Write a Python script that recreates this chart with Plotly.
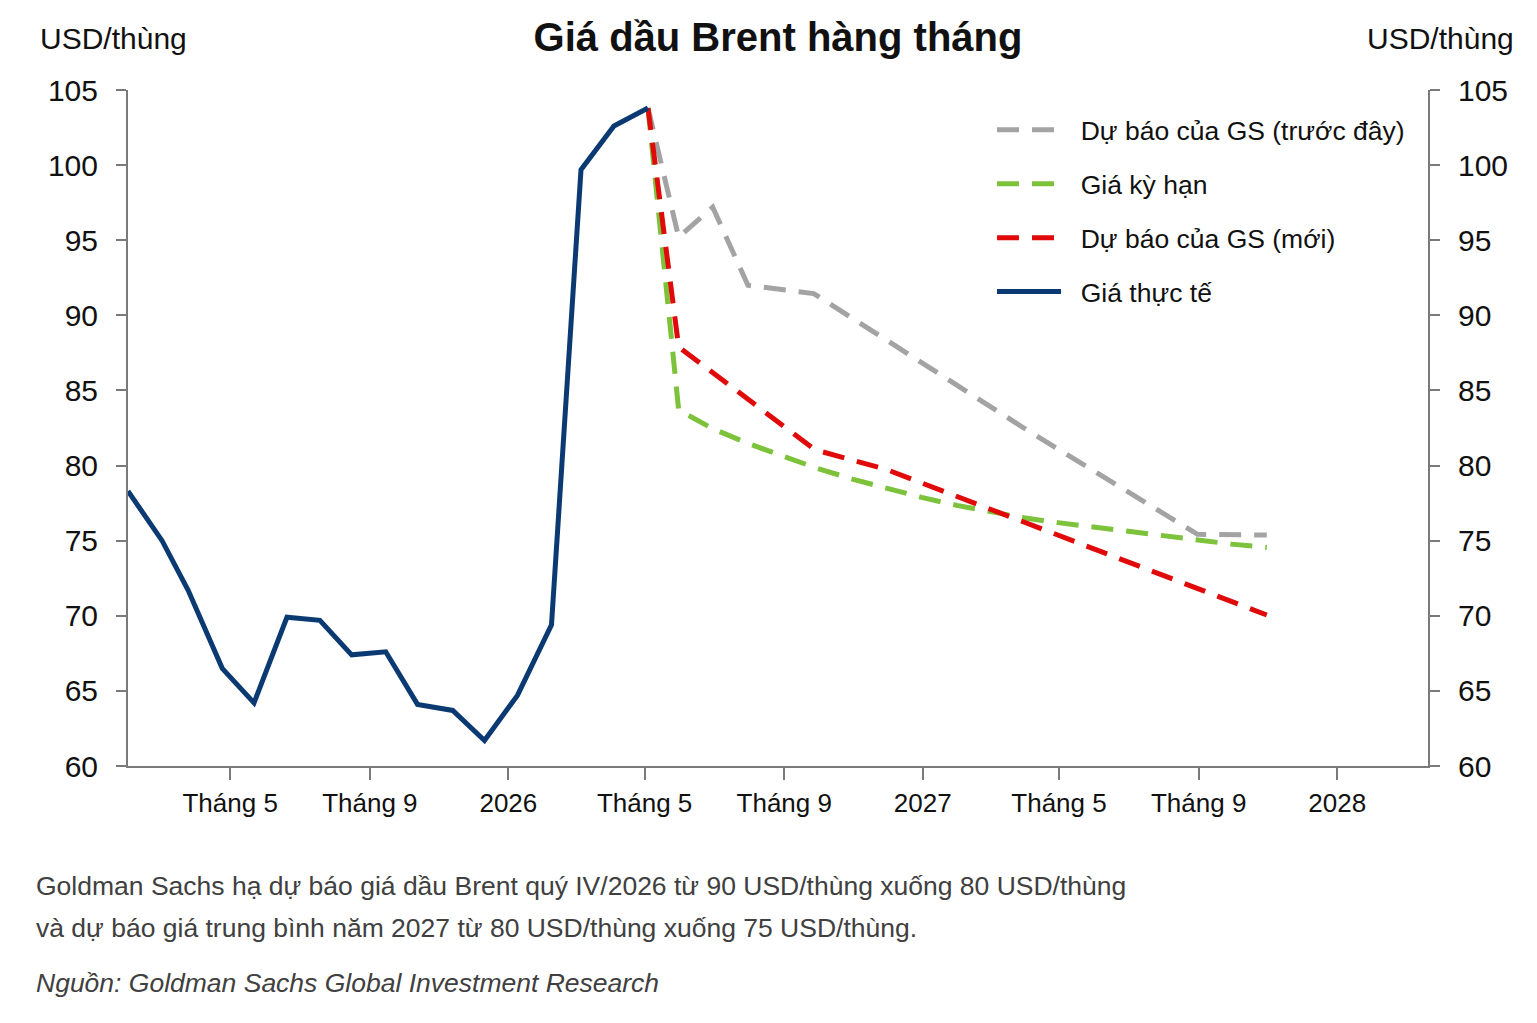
import plotly.graph_objects as go

# ---- data ----
actual_dates = ["2025-01-31", "2025-03-02", "2025-03-25", "2025-04-24", "2025-05-22",
                "2025-06-20", "2025-07-19", "2025-08-16", "2025-09-15", "2025-10-13",
                "2025-11-13", "2025-12-11", "2026-01-09", "2026-02-08", "2026-03-06",
                "2026-04-04", "2026-05-04"]
actual_values = [78.3, 75.0, 71.7, 66.5, 64.2, 69.9, 69.7, 67.4, 67.6, 64.1,
                 63.7, 61.7, 64.7, 69.4, 99.7, 102.6, 103.8]

gs_old_dates = ["2026-05-04", "2026-05-31", "2026-06-30", "2026-07-31", "2026-09-27",
                "2027-03-31", "2027-08-31", "2027-10-31"]
gs_old_values = [103.8, 95.2, 97.2, 92.0, 91.45, 82.5, 75.42, 75.37]

forward_dates = ["2026-05-04", "2026-05-31", "2026-06-30", "2026-07-31", "2026-08-31",
                 "2026-09-30", "2026-10-31", "2026-11-30", "2026-12-31", "2027-01-31",
                 "2027-02-28", "2027-03-31", "2027-04-30", "2027-05-31", "2027-06-30",
                 "2027-07-31", "2027-08-31", "2027-09-30", "2027-10-31"]
forward_values = [103.8, 83.7, 82.45, 81.48, 80.62, 79.82, 79.1, 78.47, 77.88, 77.35,
                  76.95, 76.52, 76.2, 75.9, 75.62, 75.3, 75.0, 74.77, 74.55]

gs_new_dates = ["2026-05-04", "2026-05-31", "2026-09-28", "2026-11-30", "2027-10-31"]
gs_new_values = [103.8, 87.9, 81.05, 79.74, 70.05]

tick_dates = ["2025-05-01", "2025-09-01", "2026-01-01", "2026-05-01", "2026-09-01",
              "2027-01-01", "2027-05-01", "2027-09-01", "2028-01-01"]
tick_labels = ["Tháng 5", "Tháng 9", "2026", "Tháng 5", "Tháng 9", "2027",
               "Tháng 5", "Tháng 9", "2028"]

names = ["Dự báo của GS (trước đây)", "Giá kỳ hạn", "Dự báo của GS (mới)", "Giá thực tế"]

title_text = "Giá dầu Brent hàng tháng"
unit_text = "USD/thùng"
note_line1 = "Goldman Sachs hạ dự báo giá dầu Brent quý IV/2026 từ 90 USD/thùng xuống 80 USD/thùng"
note_line2 = "và dự báo giá trung bình năm 2027 từ 80 USD/thùng xuống 75 USD/thùng."
source_text = "Nguồn: Goldman Sachs Global Investment Research"

FONT = "Liberation Sans, Arial, sans-serif"
GRAY = "#A3A3A3"
GREEN = "#7CC23A"
RED = "#E10A0A"
NAVY = "#0B3A73"
DASH = "22px,13px"
PAD = "\u00a0\u00a0"  # gap between legend line and its label

fig = go.Figure()
fig.add_trace(go.Scatter(x=gs_old_dates, y=gs_old_values, mode="lines", name=PAD + names[0],
                         line=dict(color=GRAY, width=5, dash=DASH), legendgroup="a"))
fig.add_trace(go.Scatter(x=forward_dates, y=forward_values, mode="lines", name=PAD + names[1],
                         line=dict(color=GREEN, width=5, dash=DASH), legendgroup="b"))
fig.add_trace(go.Scatter(x=gs_new_dates, y=gs_new_values, mode="lines", name=PAD + names[2],
                         line=dict(color=RED, width=5, dash=DASH), legendgroup="c"))
fig.add_trace(go.Scatter(x=actual_dates, y=actual_values, mode="lines", name=PAD + names[3],
                         line=dict(color=NAVY, width=5), legendgroup="d"))
# invisible trace to activate right axis
fig.add_trace(go.Scatter(x=actual_dates[:1], y=actual_values[:1], yaxis="y2", mode="lines",
                         line=dict(width=0), showlegend=False, hoverinfo="skip"))

PLOT_L, PLOT_R, PLOT_T, PLOT_B = 128, 1428, 90, 766
W, H = 1537, 1023
pw, ph = PLOT_R - PLOT_L, PLOT_B - PLOT_T

def px_x(x):
    return (x - PLOT_L) / pw

def px_y(y):
    return (PLOT_B - y) / ph

axis_base = dict(showgrid=False, zeroline=False, showline=True, linecolor="#7a7a7a",
                 linewidth=2, ticks="outside", tickcolor="#7a7a7a", tickwidth=2)
yfont = dict(family=FONT, size=30, color="#111111")

fig.update_layout(
    width=W, height=H,
    margin=dict(l=PLOT_L, r=W - PLOT_R, t=PLOT_T, b=H - PLOT_B, autoexpand=False),
    paper_bgcolor="white", plot_bgcolor="white",
    font=dict(family=FONT, color="#111111"),
    title=dict(text="<b>" + title_text + "</b>", x=0.5, xref="paper", xanchor="center",
               y=1 - 37 / H, yref="container", yanchor="middle",
               font=dict(family=FONT, size=40, color="#111111")),
    xaxis=dict(type="date", range=["2025-01-31", "2028-03-21"], tickvals=tick_dates,
               ticktext=tick_labels, ticklen=12, ticklabelstandoff=1,
               tickfont=dict(family=FONT, size=26, color="#111111"), **axis_base),
    yaxis=dict(range=[60, 105], tickvals=list(range(60, 106, 5)), ticklen=10,
               ticklabelstandoff=12, side="left", tickfont=yfont, **axis_base),
    yaxis2=dict(range=[60, 105], tickvals=list(range(60, 106, 5)), ticklen=10,
                ticklabelstandoff=12, side="right", overlaying="y", tickfont=yfont,
                **axis_base),
    legend=dict(x=px_x(992), y=px_y(106), xanchor="left", yanchor="top",
                bgcolor="rgba(0,0,0,0)", borderwidth=0, itemwidth=64,
                tracegroupgap=16.5, traceorder="grouped",
                font=dict(family=FONT, size=26.5, color="#111111")),
    showlegend=True,
)

annos = [
    dict(text=unit_text, x=px_x(38), y=px_y(38), xanchor="left", yanchor="middle",
         size=30, color="#111111"),
    dict(text=unit_text, x=px_x(1516), y=px_y(38), xanchor="right", yanchor="middle",
         size=30, color="#111111"),
    dict(text=note_line1, x=px_x(34), y=px_y(886), xanchor="left", yanchor="middle",
         size=26.5, color="#404040"),
    dict(text=note_line2, x=px_x(34), y=px_y(928), xanchor="left", yanchor="middle",
         size=26.5, color="#404040"),
    dict(text="<i>" + source_text + "</i>", x=px_x(34), y=px_y(983), xanchor="left",
         yanchor="middle", size=26.5, color="#404040"),
]
for a in annos:
    size = a.pop("size")
    color = a.pop("color")
    fig.add_annotation(xref="paper", yref="paper", showarrow=False,
                       font=dict(family=FONT, size=size, color=color), **a)

fig.write_html("out.html")
